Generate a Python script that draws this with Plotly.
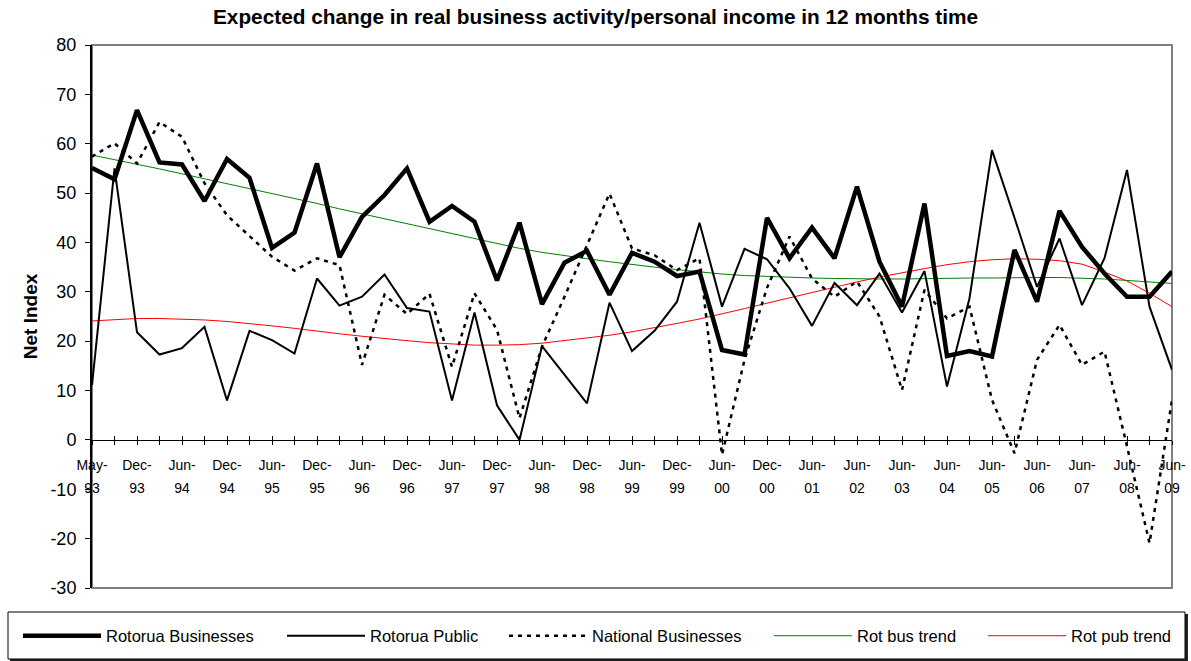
import plotly.graph_objects as go

# ---------------- data ----------------
periods = ["May-93","Sep-93","Dec-93","Mar-94","Jun-94","Sep-94","Dec-94","Mar-95","Jun-95","Sep-95",
           "Dec-95","Mar-96","Jun-96","Sep-96","Dec-96","Mar-97","Jun-97","Sep-97","Dec-97","Mar-98",
           "Jun-98","Sep-98","Dec-98","Mar-99","Jun-99","Sep-99","Dec-99","Mar-00","Jun-00","Sep-00",
           "Dec-00","Mar-01","Jun-01","Dec-01","Jun-02","Dec-02","Jun-03","Dec-03","Jun-04","Dec-04",
           "Jun-05","Dec-05","Jun-06","Dec-06","Jun-07","Dec-07","Jun-08","Dec-08","Jun-09"]

rotorua_businesses = [55.1, 52.8, 66.8, 56.2, 55.8, 48.4, 56.9, 53.1, 38.9, 42.0,
                      56.0, 37.0, 45.2, 49.6, 55.0, 44.2, 47.4, 44.2, 32.3, 44.0,
                      27.5, 35.9, 38.3, 29.4, 37.9, 36.1, 33.2, 34.1, 18.2, 17.3,
                      45.0, 36.8, 43.0, 36.8, 51.3, 36.1, 27.0, 47.9, 17.0, 18.0,
                      16.9, 38.5, 28.0, 46.4, 39.1, 33.7, 29.0, 29.0, 34.1]

rotorua_public = [11.1, 55.0, 21.8, 17.3, 18.6, 22.9, 8.0, 22.1, 20.2, 17.5,
                  32.7, 27.2, 29.0, 33.5, 26.7, 26.0, 8.0, 25.8, 7.0, 0.0,
                  19.0, 13.3, 7.4, 27.8, 18.0, 22.1, 28.0, 44.0, 27.0, 38.7,
                  36.6, 30.7, 23.1, 31.8, 27.3, 33.7, 25.8, 34.2, 10.8, 28.7,
                  58.7, 45.0, 31.0, 40.8, 27.3, 36.8, 54.7, 27.0, 14.2]

national_businesses = [57.4, 60.1, 56.0, 64.4, 61.4, 52.0, 45.5, 41.2, 37.1, 34.3,
                       36.8, 35.4, 15.2, 29.4, 25.5, 29.6, 14.8, 29.7, 22.3, 4.4,
                       18.9, 29.0, 39.5, 49.9, 38.8, 37.4, 34.4, 36.8, -3.0, 16.2,
                       30.8, 41.2, 32.7, 29.0, 32.1, 25.0, 10.1, 30.4, 24.6, 27.0,
                       8.1, -2.7, 16.2, 23.3, 15.2, 17.9, -1.3, -20.9, 8.1]

rot_bus_trend = [57.7, 56.8, 55.8, 54.9, 53.9, 52.9, 51.9, 50.9, 50.0, 49.0,
                 47.9, 46.8, 45.8, 44.8, 43.8, 42.8, 41.8, 40.8, 39.8, 38.8,
                 38.0, 37.3, 36.7, 36.1, 35.5, 35.0, 34.5, 34.0, 33.6, 33.3,
                 33.1, 32.9, 32.8, 32.7, 32.6, 32.6, 32.6, 32.7, 32.7, 32.8,
                 32.8, 32.9, 32.9, 32.9, 32.8, 32.6, 32.3, 32.0, 31.7]

rot_pub_trend = [24.1, 24.4, 24.6, 24.6, 24.5, 24.3, 24.0, 23.6, 23.1, 22.6,
                 22.0, 21.5, 21.0, 20.5, 20.1, 19.7, 19.4, 19.2, 19.2, 19.3,
                 19.6, 20.1, 20.6, 21.2, 21.9, 22.7, 23.6, 24.5, 25.5, 26.6,
                 27.7, 28.8, 29.9, 31.0, 32.0, 33.0, 33.9, 34.7, 35.5, 36.1,
                 36.5, 36.7, 36.6, 36.3, 35.6, 34.0, 32.2, 29.7, 27.0]

# tick labels shown on every second category (month / year on two lines)
tick_months = ["May-", "", "Dec-", "", "Jun-", "", "Dec-", "", "Jun-", "",
               "Dec-", "", "Jun-", "", "Dec-", "", "Jun-", "", "Dec-", "",
               "Jun-", "", "Dec-", "", "Jun-", "", "Dec-", "", "Jun-", "",
               "Dec-", "", "Jun-", "", "Jun-", "", "Jun-", "", "Jun-", "",
               "Jun-", "", "Jun-", "", "Jun-", "", "Jun-", "", "Jun-"]
tick_years = ["93", "", "93", "", "94", "", "94", "", "95", "",
              "95", "", "96", "", "96", "", "97", "", "97", "",
              "98", "", "98", "", "99", "", "99", "", "00", "",
              "00", "", "01", "", "02", "", "03", "", "04", "",
              "05", "", "06", "", "07", "", "08", "", "09"]

y_ticks = [-30, -20, -10, 0, 10, 20, 30, 40, 50, 60, 70, 80]
y_tick_labels = ["-30", "-20", "-10", "0", "10", "20", "30", "40", "50", "60", "70", "80"]
y_min, y_max = -30, 80

# ---------------- figure ----------------
FONT = "Arial, Liberation Sans, sans-serif"
W, H = 1191, 661
L, R, T, B = 92, 19, 45, 73

def px_x(p):
    return (p - L) / (W - L - R)

def px_y(p):
    return (H - B - p) / (H - T - B)

SPAN = '<span style="font-size:14px">{}</span>'
tick_text = [(SPAN.format(m) + "<br>" + SPAN.format(y)) if m else "" for m, y in zip(tick_months, tick_years)]

fig = go.Figure()

series = [
    ("Rotorua Businesses", rotorua_businesses, dict(color="black", width=4.5), "legend"),
    ("Rotorua Public", rotorua_public, dict(color="black", width=2), "legend2"),
    ("National Businesses", national_businesses, dict(color="black", width=2.5, dash="4px,5px"), "legend3"),
    ("Rot bus trend", rot_bus_trend, dict(color="#008000", width=1), "legend4"),
    ("Rot pub trend", rot_pub_trend, dict(color="#FF0000", width=1), "legend5"),
]
# draw order: trends under the data lines
for name, vals, line, lg in [series[3], series[4], series[2], series[1], series[0]]:
    fig.add_trace(go.Scatter(x=periods, y=vals, mode="lines", name=name, line=line,
                             legend=lg, hoverinfo="x+y+name"))

# dummy trace for second x axis (inside half of the crossing ticks)
fig.add_trace(go.Scatter(x=periods, y=[None] * len(periods), xaxis="x2", showlegend=False,
                         hoverinfo="skip", mode="lines"))

zero_pos = (0 - y_min) / (y_max - y_min)

fig.update_layout(
    width=W, height=H,
    margin=dict(l=L, r=R, t=T, b=B, pad=0, autoexpand=False),
    paper_bgcolor="white", plot_bgcolor="white",
    font=dict(family=FONT, color="black"),
    title=dict(text="<b>Expected change in real business activity/personal income in 12 months time</b>",
               x=0.5, xref="container", xanchor="center",
               y=1 - 17 / H, yref="container", yanchor="middle",
               font=dict(size=20.8, family=FONT, color="black")),
    xaxis=dict(type="category", categoryorder="array", categoryarray=periods,
               range=[0, len(periods) - 1], anchor="free", position=zero_pos,
               showline=True, linecolor="black", linewidth=1,
               ticks="outside", ticklen=4, tickcolor="black", tickwidth=1,
               tickmode="array", tickvals=periods, ticktext=tick_text, tickangle=0,
               tickfont=dict(size=18, family=FONT, color="black"), ticklabelstandoff=3,
               showgrid=False, zeroline=False, fixedrange=True),
    xaxis2=dict(type="category", categoryorder="array", categoryarray=periods,
                range=[0, len(periods) - 1], overlaying="x", anchor="free", position=zero_pos,
                showline=False, ticks="inside", ticklen=4, tickcolor="black", tickwidth=1,
                tickmode="array", tickvals=periods, showticklabels=False,
                showgrid=False, zeroline=False, fixedrange=True),
    yaxis=dict(range=[y_min, y_max], tickmode="array", tickvals=y_ticks, ticktext=y_tick_labels,
               showline=True, linecolor="black", linewidth=2,
               ticks="outside", ticklen=5, tickcolor="black", tickwidth=1,
               tickfont=dict(size=18, family=FONT, color="black"), ticklabelstandoff=5,
               showgrid=False, zeroline=False, fixedrange=True,
               title=dict(text="<b>Net Index</b>", font=dict(size=19, family=FONT, color="black"),
                          standoff=8)),
    showlegend=True,
)

# plot area border (grey) and legend frame with shadow
fig.add_shape(type="rect", xref="paper", yref="paper", x0=0, x1=1, y0=0, y1=1,
              line=dict(color="#808080", width=2), layer="below")
fig.add_shape(type="rect", xref="paper", yref="paper",
              x0=px_x(10), x1=px_x(1188), y0=px_y(662), y1=px_y(614),
              line=dict(width=0), fillcolor="#222222", layer="below")
fig.add_shape(type="rect", xref="paper", yref="paper",
              x0=px_x(8), x1=px_x(1185), y0=px_y(659), y1=px_y(612),
              line=dict(color="black", width=1), fillcolor="white", layer="below")

legend_starts = [24, 288, 510, 775, 989]
legend_keys = ["legend", "legend2", "legend3", "legend4", "legend5"]
for key, sx in zip(legend_keys, legend_starts):
    fig.update_layout({key: dict(x=(sx - 6) / W, xref="container", xanchor="left",
                                 y=1 - 636 / H, yref="container", yanchor="middle",
                                 orientation="h", bgcolor="rgba(0,0,0,0)", borderwidth=0,
                                 itemwidth=78, font=dict(size=16.5, family=FONT, color="black"),
                                 itemclick=False, itemdoubleclick=False)})

fig.write_html("out.html", config={"displayModeBar": False},
               post_script="document.body.style.margin='0px';")
